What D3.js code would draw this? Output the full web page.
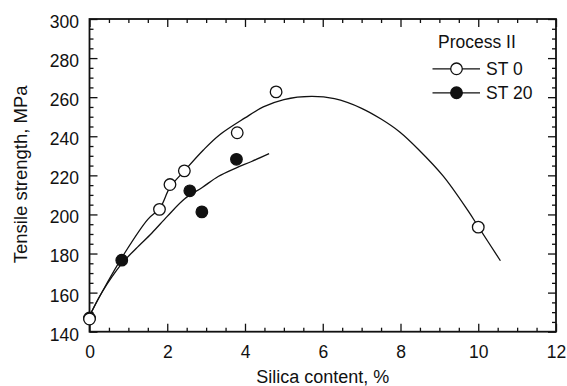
<!DOCTYPE html>
<html>
<head>
<meta charset="utf-8">
<script src="https://cdn.jsdelivr.net/npm/d3@7"></script>
<style>
  html, body { margin: 0; padding: 0; background: #fff; }
  svg { display: block; }
  text { font-family: "Liberation Sans", Arial, Helvetica, sans-serif; fill: #111; }
</style>
</head>
<body>
<svg id="chart" width="567" height="386"></svg>
<script>
// Measured points, Process II
const st0X = [0, 1.8, 2.07, 2.44, 3.8, 4.8, 10.0];
const st0Y = [146.5, 202.6, 215.3, 222.3, 241.8, 262.7, 193.5];
const st20X = [0, 0.83, 2.58, 2.89, 3.78];
const st20Y = [147, 176.6, 212.1, 201.3, 228.2];

// Trend curves
const st0CurveX = [0, 0.31, 0.91, 1.5, 1.81, 2.07, 2.44, 2.93, 3.35, 4.0, 4.47, 5.0, 5.71, 6.3, 7.0, 7.5, 7.98, 8.45, 9.1, 9.74, 10.0, 10.57];
const st0CurveY = [148, 159.8, 180.4, 197.5, 203.2, 213.8, 222.3, 233.0, 240.8, 249.4, 255.0, 258.8, 260.4, 259.2, 254.3, 248.8, 242.2, 233.5, 219.6, 201.8, 193.8, 176.3];
const st20CurveX = [0, 0.31, 0.83, 1.2, 1.6, 2.0, 2.45, 2.9, 3.31, 3.75, 4.17, 4.62];
const st20CurveY = [148, 159.8, 174.8, 182.6, 190.4, 199.0, 208.0, 213.8, 219.4, 223.6, 227.1, 231.1];

// Axis ticks
const xMajor = [0, 2, 4, 6, 8, 10, 12];
const yMajor = [140, 160, 180, 200, 220, 240, 260, 280, 300];

const seriesNames = ["ST 0", "ST 20"];
const legendTitle = "Process II";
const xTitle = "Silica content, %";
const yTitle = "Tensile strength, MPa";

const svg = d3.select("#chart");
const plotLeft = 89.5, plotTop = 19, plotRight = 556, plotBottom = 331.7;
const x = d3.scaleLinear().domain([0, 12]).range([plotLeft, plotRight]);
const y = d3.scaleLinear().domain([140, 300]).range([plotBottom, plotTop]);

const xMinor = d3.range(0, 12.001, 0.5).filter(v => !xMajor.includes(v));
const yMinor = d3.range(140, 300.001, 5).filter(v => !yMajor.includes(v));

const fontSize = 17.5;

function styleAxis(g) {
  g.select(".domain").remove();
  g.selectAll(".tick line").attr("stroke", "#111").attr("stroke-width", 1.3);
  g.selectAll(".tick text").style("font-size", fontSize + "px").attr("fill", "#111");
}

// Bottom axis: labelled major ticks and minor ticks, pointing inward
svg.append("g").attr("transform", `translate(0,${plotBottom})`)
  .call(d3.axisBottom(x).tickValues(xMajor).tickSize(-8).tickSizeOuter(0).tickPadding(14).tickFormat(d3.format("d")))
  .call(styleAxis);
svg.append("g").attr("transform", `translate(0,${plotBottom})`)
  .call(d3.axisBottom(x).tickValues(xMinor).tickSize(-4).tickSizeOuter(0).tickFormat(""))
  .call(styleAxis);
// Top axis
svg.append("g").attr("transform", `translate(0,${plotTop})`)
  .call(d3.axisTop(x).tickValues(xMajor).tickSize(-8).tickSizeOuter(0).tickFormat(""))
  .call(styleAxis);
svg.append("g").attr("transform", `translate(0,${plotTop})`)
  .call(d3.axisTop(x).tickValues(xMinor).tickSize(-4).tickSizeOuter(0).tickFormat(""))
  .call(styleAxis);
// Left axis
svg.append("g").attr("transform", `translate(${plotLeft},0)`)
  .call(d3.axisLeft(y).tickValues(yMajor).tickSize(-8).tickSizeOuter(0).tickPadding(10.5).tickFormat(d3.format("d")))
  .call(styleAxis)
  .call(g => g.selectAll(".tick text").attr("dy", "0.48em"));
svg.append("g").attr("transform", `translate(${plotLeft},0)`)
  .call(d3.axisLeft(y).tickValues(yMinor).tickSize(-4).tickSizeOuter(0).tickFormat(""))
  .call(styleAxis);
// Right axis
svg.append("g").attr("transform", `translate(${plotRight},0)`)
  .call(d3.axisRight(y).tickValues(yMajor).tickSize(-8).tickSizeOuter(0).tickFormat(""))
  .call(styleAxis);
svg.append("g").attr("transform", `translate(${plotRight},0)`)
  .call(d3.axisRight(y).tickValues(yMinor).tickSize(-4).tickSizeOuter(0).tickFormat(""))
  .call(styleAxis);

// Plot frame
svg.append("rect")
  .attr("x", plotLeft).attr("y", plotTop)
  .attr("width", plotRight - plotLeft).attr("height", plotBottom - plotTop)
  .attr("fill", "none").attr("stroke", "#111").attr("stroke-width", 1.8);

// Axis titles
svg.append("text")
  .attr("x", (plotLeft + plotRight) / 2).attr("y", 383)
  .attr("text-anchor", "middle")
  .style("font-size", "18px")
  .text(xTitle);
svg.append("text")
  .attr("transform", `translate(27,${(plotTop + plotBottom) / 2 - 1}) rotate(-90)`)
  .attr("text-anchor", "middle")
  .style("font-size", "18.5px")
  .text(yTitle);

// Trend curves
const line = d3.line().x(d => x(d[0])).y(d => y(d[1])).curve(d3.curveCatmullRom.alpha(0.5));
svg.append("path")
  .datum(d3.zip(st0CurveX, st0CurveY))
  .attr("d", line)
  .attr("fill", "none").attr("stroke", "#111").attr("stroke-width", 1.3);
svg.append("path")
  .datum(d3.zip(st20CurveX, st20CurveY))
  .attr("d", line)
  .attr("fill", "none").attr("stroke", "#111").attr("stroke-width", 1.3);

// Markers
const r = 5.8;
svg.append("g").selectAll("circle")
  .data(d3.zip(st20X, st20Y))
  .join("circle")
  .attr("cx", d => x(d[0])).attr("cy", d => y(d[1])).attr("r", r)
  .attr("fill", "#111").attr("stroke", "#111").attr("stroke-width", 1.2);
svg.append("g").selectAll("circle")
  .data(d3.zip(st0X, st0Y))
  .join("circle")
  .attr("cx", d => x(d[0])).attr("cy", d => y(d[1])).attr("r", r)
  .attr("fill", "#fff").attr("stroke", "#111").attr("stroke-width", 1.3);

// Legend
const legend = svg.append("g");
legend.append("text")
  .attr("x", 438).attr("y", 48.3)
  .style("font-size", fontSize + "px")
  .text(legendTitle);
const legendRows = [
  { name: seriesNames[0], fill: "#fff", y: 68.8 },
  { name: seriesNames[1], fill: "#111", y: 92.8 }
];
const rows = legend.selectAll("g.row").data(legendRows).join("g").attr("class", "row");
rows.append("line")
  .attr("x1", 432.5).attr("x2", 480)
  .attr("y1", d => d.y).attr("y2", d => d.y)
  .attr("stroke", "#111").attr("stroke-width", 1.3);
rows.append("circle")
  .attr("cx", 456.5).attr("cy", d => d.y).attr("r", r)
  .attr("fill", d => d.fill).attr("stroke", "#111").attr("stroke-width", 1.3);
rows.append("text")
  .attr("x", 486).attr("y", d => d.y + 6.3)
  .style("font-size", fontSize + "px")
  .text(d => d.name);
</script>
</body>
</html>
